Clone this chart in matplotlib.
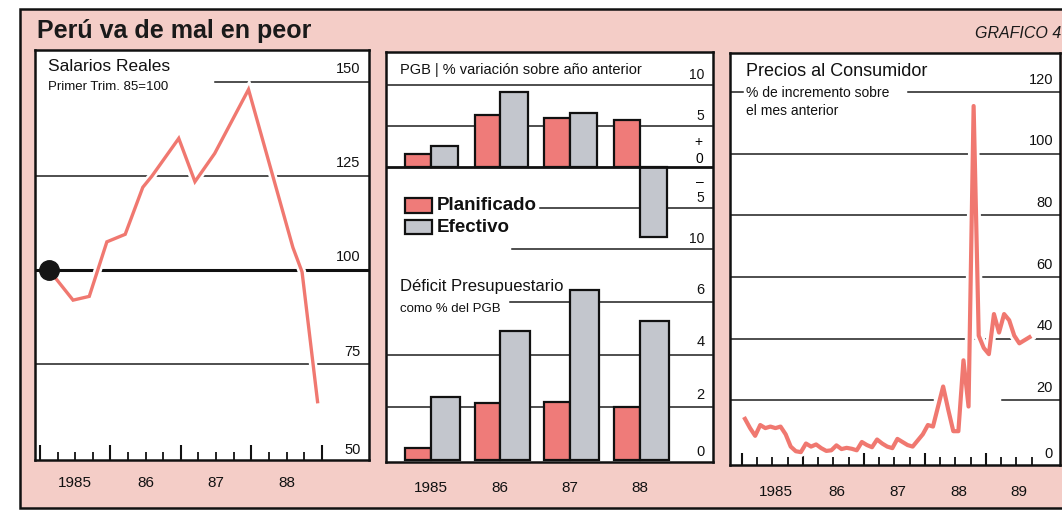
import matplotlib
matplotlib.use('Agg')
import matplotlib.pyplot as plt
import matplotlib.patheffects as pe
from matplotlib.patches import Rectangle
import numpy as np

# --- datos ---
# Salarios reales, primer trim. 85 = 100
sal_x = [1985.13, 1985.47, 1985.70, 1985.95, 1986.21, 1986.46, 1986.59, 1986.97,
         1987.20, 1987.48, 1987.96, 1988.59, 1988.72, 1988.94]
sal_y = [100, 92, 93, 107.5, 109.5, 122, 125, 135, 123.5, 131, 148, 106, 99.5, 65]
sal_ticks = [150, 125, 100, 75, 50]

# PGB, % variacion sobre año anterior
anios = ['1985', '86', '87', '88']
pgb_plan = [1.6, 6.3, 6.0, 5.7]
pgb_efec = [2.6, 9.1, 6.6, -8.5]

# Deficit presupuestario, % del PGB
def_plan = [0.45, 2.15, 2.2, 2.0]
def_efec = [2.4, 4.9, 6.45, 5.3]

# Precios al consumidor, % sobre el mes anterior (desde dic-1984)
ipc = [14, 11, 8.5, 12, 11, 11.5, 11, 11.5, 9, 5, 3.5, 3.2, 6, 5, 5.7,
       4.5, 3.6, 3.8, 5.4, 4.2, 4.6, 4.3, 3.8, 6.5, 5.5, 4.8, 7.3, 6, 5,
       4.5, 7.5, 6.5, 5.5, 5, 7, 9, 12, 11.5, 18, 24.5, 17, 10, 10, 33,
       18, 115.5, 41, 37, 35, 48, 42, 48, 46, 41, 38.5, 39.5, 40.5]
ipc_ticks = [120, 100, 80, 60, 40, 20, 0]
ipc_anios = ['1985', '86', '87', '88', '89']

# --- estilo ---
W, H = 1062, 512
ROSA = '#f4cdc7'
ROJO = '#f07870'
BARRA_R = '#ef7b79'
GRIS = '#c3c6cd'
LINEA = '#1e1e1e'
plt.rcParams['font.family'] = ['Liberation Sans', 'DejaVu Sans']


def caja(x0, y0, x1, y1):
    return [x0 / W, 1 - y1 / H, (x1 - x0) / W, (y1 - y0) / H]


def ftxt(x, y, s, **kw):
    fig.text(x / W, 1 - y / H, s, **kw)


def marco(ax):
    for sp in ax.spines.values():
        sp.set_linewidth(1.8)
        sp.set_color('#111')


def etiqueta(ax, v, s, dx=-6, dy=3, fs=10.5):
    ax.annotate(s, xy=(1, v), xycoords=('axes fraction', 'data'),
                xytext=(dx, dy), textcoords='offset points',
                ha='right', va='bottom', fontsize=fs, color='#111')


fig = plt.figure(figsize=(W / 100, H / 100), dpi=100)
fig.patch.set_facecolor('white')
fig.add_artist(Rectangle((20 / W, 1 - 508 / H), 1.1, (508 - 9) / H,
                         transform=fig.transFigure, facecolor=ROSA,
                         edgecolor='#111', linewidth=1.8, zorder=0))
ftxt(37, 31, 'Perú va de mal en peor', fontsize=18, fontweight='bold',
     va='center', color='#1a1a1a')
ftxt(975, 33, 'GRAFICO 4', fontsize=11.5, style='italic', va='center',
     color='#1a1a1a')

# --- Salarios reales ---
ax1 = fig.add_axes(caja(35, 50, 369, 460))
ax1.set_facecolor('white')
marco(ax1)
ax1.set_xlim(1984.93, 1989.67)
ax1.set_ylim(49.5, 158.5)
ax1.set_yticks([])
ax1.axhline(150, xmin=0.54, xmax=1, color=LINEA, lw=1.1)
ax1.axhline(125, color=LINEA, lw=1.1)
ax1.axhline(75, color=LINEA, lw=1.1)
ax1.axhline(100, color='#111', lw=2.2)
ax1.plot(sal_x, sal_y, color=ROJO, lw=2.4, solid_joinstyle='miter', zorder=4,
         path_effects=[pe.Stroke(linewidth=6, foreground='white'), pe.Normal()])
ax1.plot(sal_x[0], sal_y[0], 'o', color='#151515', ms=14, zorder=5)
for v in sal_ticks:
    etiqueta(ax1, v, str(v), dy=4 if v != 50 else 1)
ax1.set_xticks(np.arange(1985, 1989.01, 1.0))
ax1.set_xticks(np.arange(1985, 1989.01, 0.25), minor=True)
ax1.tick_params(axis='x', which='major', direction='in', length=11, width=1.5,
                labelbottom=False, color='#111')
ax1.tick_params(axis='x', which='minor', direction='in', length=6, width=1.3,
                color='#111')
for i, s in enumerate(anios):
    ax1.text(1985.5 + i, -0.056, s, transform=ax1.get_xaxis_transform(),
             ha='center', va='center', fontsize=11, color='#111')
ax1.text(0.04, 0.978, 'Salarios Reales', transform=ax1.transAxes, fontsize=12.5,
         va='top', color='#111')
ax1.text(0.04, 0.925, 'Primer Trim. 85=100', transform=ax1.transAxes,
         fontsize=9.5, va='top', color='#111')

# --- panel central ---
frame = fig.add_axes(caja(386, 52, 713, 462))
frame.set_facecolor('white')
marco(frame)
frame.set_xticks([])
frame.set_yticks([])

x = np.arange(len(anios))
xl = (-0.64, 4.05)
w = 0.37

axt = fig.add_axes(caja(386, 52, 713, 258))
axt.patch.set_alpha(0)
axt.axis('off')
axt.set_xlim(*xl)
axt.set_ylim(-11.1, 14.0)
axt.axhline(10, color=LINEA, lw=1.1, zorder=1)
axt.axhline(5, color=LINEA, lw=1.1, zorder=1)
axt.axhline(-5, xmin=0.47, xmax=1, color=LINEA, lw=1.1, zorder=1)
axt.axhline(-10, xmin=0.385, xmax=1, color=LINEA, lw=1.1, zorder=1)
axt.bar(x - w, pgb_plan, w, align='edge', color=BARRA_R, edgecolor='#111',
        lw=1.6, zorder=3)
axt.bar(x, pgb_efec, w + 0.02, align='edge', color=GRIS, edgecolor='#111',
        lw=1.6, zorder=3)
axt.axhline(0, color='#111', lw=2, zorder=4)
for v, s in [(10, '10'), (5, '5'), (-5, '5'), (-10, '10')]:
    etiqueta(axt, v, s, dx=-6, dy=2, fs=10)
axt.annotate('+', xy=(1, 0), xycoords=('axes fraction', 'data'), xytext=(-8, 13),
             textcoords='offset points', ha='right', va='bottom', fontsize=10)
axt.annotate('0', xy=(1, 0), xycoords=('axes fraction', 'data'), xytext=(-7, 1),
             textcoords='offset points', ha='right', va='bottom', fontsize=10)
axt.annotate('–', xy=(1, 0), xycoords=('axes fraction', 'data'), xytext=(-7, -16),
             textcoords='offset points', ha='right', va='bottom', fontsize=10)
ftxt(400, 70, 'PGB | % variación sobre año anterior', fontsize=10.5,
     va='center', color='#111')

# leyenda
for (y0, y1), c, s in [((198, 213), BARRA_R, 'Planificado'),
                       ((220, 234), GRIS, 'Efectivo')]:
    fig.add_artist(Rectangle((405 / W, 1 - y1 / H), 27 / W, (y1 - y0) / H,
                             transform=fig.transFigure, facecolor=c,
                             edgecolor='#111', linewidth=1.6, zorder=5))
    ftxt(437, (y0 + y1) / 2, s, fontsize=13.5, fontweight='bold', va='center',
         color='#111', zorder=5)

axb = fig.add_axes(caja(386, 262, 713, 462))
axb.patch.set_alpha(0)
axb.axis('off')
axb.set_xlim(*xl)
axb.set_ylim(-0.08, 7.53)
axb.axhline(6, xmin=0.38, xmax=1, color=LINEA, lw=1.1, zorder=1)
axb.axhline(4, color=LINEA, lw=1.1, zorder=1)
axb.axhline(2, color=LINEA, lw=1.1, zorder=1)
axb.bar(x - w, def_plan, w, align='edge', color=BARRA_R, edgecolor='#111',
        lw=1.6, zorder=3)
axb.bar(x, def_efec, w + 0.05, align='edge', color=GRIS, edgecolor='#111',
        lw=1.6, zorder=3)
for v in [6, 4, 2, 0]:
    etiqueta(axb, v, str(v), dx=-6, dy=4 if v else 1)
for i, s in enumerate(anios):
    axb.text(i, -0.13, s, transform=axb.get_xaxis_transform(), ha='center',
             va='center', fontsize=11, color='#111')
ftxt(400, 287, 'Déficit Presupuestario', fontsize=12, va='center', color='#111')
ftxt(400, 309, 'como % del PGB', fontsize=9.5, va='center', color='#111')

# --- Precios al consumidor ---
ax3 = fig.add_axes(caja(730, 53, 1060, 465))
ax3.set_facecolor('white')
marco(ax3)
meses = np.arange(len(ipc))
ax3.set_xlim(-2.95, 62.0)
ax3.set_ylim(-0.97, 132.7)
ax3.set_yticks([])
ax3.axhline(120, xmin=0, xmax=0.04, color=LINEA, lw=1.1)
ax3.axhline(120, xmin=0.54, xmax=1, color=LINEA, lw=1.1)
for v in [100, 80, 60, 40]:
    ax3.axhline(v, color=LINEA, lw=1.1)
ax3.axhline(20, xmin=0, xmax=0.615, color=LINEA, lw=1.1)
ax3.axhline(20, xmin=0.824, xmax=1, color=LINEA, lw=1.1)
ax3.plot(meses, ipc, color=ROJO, lw=3, zorder=4,
         path_effects=[pe.Stroke(linewidth=7, foreground='white'), pe.Normal()])
for v in ipc_ticks:
    etiqueta(ax3, v, str(v), dx=-5, dy=4 if v else 1)
ax3.set_xticks(np.arange(-0.6, 57, 12))
ax3.set_xticks(np.arange(-0.6, 57, 3), minor=True)
ax3.tick_params(axis='x', which='major', direction='in', length=9, width=1.5,
                labelbottom=False, color='#111')
ax3.tick_params(axis='x', which='minor', direction='in', length=6, width=1.3,
                color='#111')
for i, s in enumerate(ipc_anios):
    ax3.text(6 + 12 * i, -0.065, s, transform=ax3.get_xaxis_transform(),
             ha='center', va='center', fontsize=11, color='#111')
ax3.text(0.05, 0.976, 'Precios al Consumidor', transform=ax3.transAxes,
         fontsize=13, va='top', color='#111')
ax3.text(0.05, 0.921, '% de incremento sobre', transform=ax3.transAxes,
         fontsize=10, va='top', color='#111')
ax3.text(0.05, 0.876, 'el mes anterior', transform=ax3.transAxes,
         fontsize=10, va='top', color='#111')

fig.savefig('out.png', dpi=100, facecolor=fig.get_facecolor())
